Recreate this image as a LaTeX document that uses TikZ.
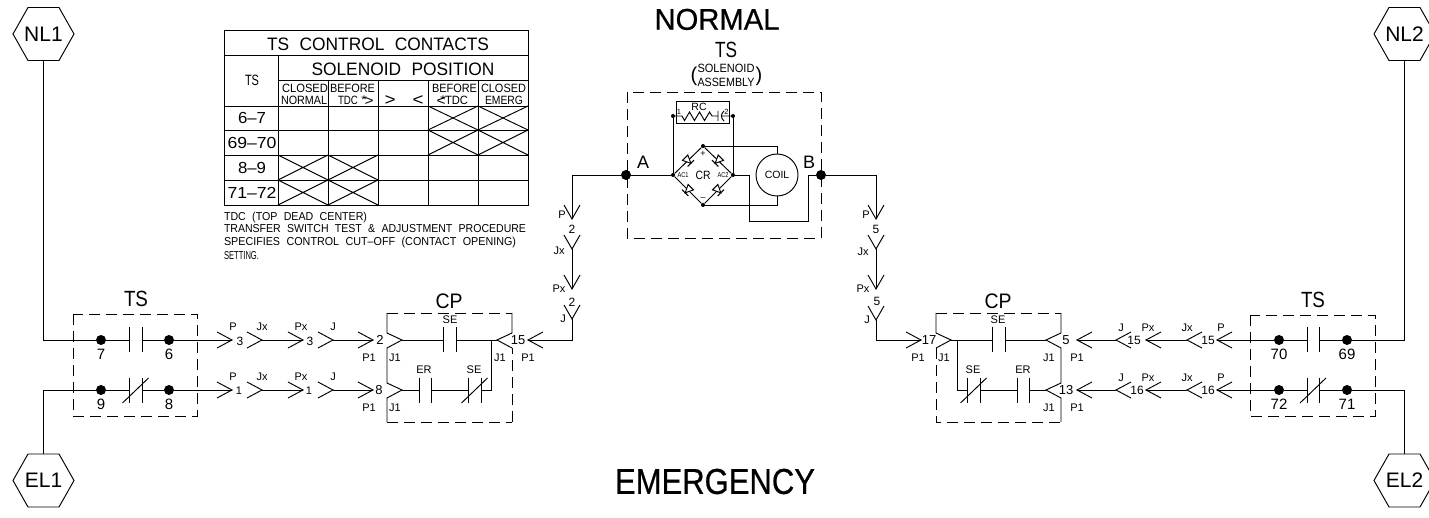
\documentclass[tikz,border=0pt]{standalone}
\usepackage{fontspec}
\setmainfont{Liberation Sans}
\newfontfamily\heavyf[FakeBold=0.6]{Liberation Sans}
\newcount\lbn
% centred label: x, y of cap centre, size, width (0 = natural), text
\newcommand{\lb}[4]{\global\advance\lbn 1
  \node[lbltxt,anchor=base,font=\fontsize{#3}{#3}\selectfont] (lbl\the\lbn) at (#1,{#2+0.358*#3}) {#4};}
\newcommand{\lw}[5]{\global\advance\lbn 1
  \node[lbltxt,anchor=base] (lbl\the\lbn) at (#1,{#2+0.358*#3}) {\resizebox{#4pt}{\height}{\fontsize{#3}{#3}\selectfont\spaceskip=.6em #5}};}
\newcommand{\lwl}[5]{\global\advance\lbn 1
  \node[lbltxt,anchor=base west] (lbl\the\lbn) at (#1,{#2+0.358*#3}) {\resizebox{#4pt}{\height}{\fontsize{#3}{#3}\selectfont\spaceskip=.6em #5}};}
\newcommand{\chr}[3]{\coordinate (#1) at (#2,#3); \draw[wire] (#2-15,#3-8) -- (#2,#3) -- (#2-15,#3+8);}
\newcommand{\chl}[3]{\coordinate (#1) at (#2,#3); \draw[wire] (#2+15,#3-8) -- (#2,#3) -- (#2+15,#3+8);}
\newcommand{\chd}[3]{\coordinate (#1) at (#2,#3); \draw[wire] (#2-8,#3-14) -- (#2,#3) -- (#2+8,#3-14);}
\newcommand{\cno}[4]{\coordinate (#1-l) at (#2,#4); \coordinate (#1-r) at (#3,#4);
  \draw[wire] (#2,#4-12.5) -- (#2,#4+12.5) (#3,#4-12.5) -- (#3,#4+12.5);}
\newcommand{\cnc}[4]{\cno{#1}{#2}{#3}{#4}
  \draw[wire] ({(#2+#3)/2-13},#4+13) -- ({(#2+#3)/2+13},#4-12);}
\newcommand{\hexa}[4]{\global\advance\lbn 1
  \node[lbltxt,font=\fontsize{21}{21}\selectfont] (#1) at (#2,#3) {#4};
  \coordinate (#1-top) at (#2,#3-26.5); \coordinate (#1-bot) at (#2,#3+26.5);
  \draw[wire] (#2-30.5,#3) -- (#2-15.5,#3-26.5) -- (#2+15.5,#3-26.5) -- (#2+30.5,#3) -- (#2+15.5,#3+26.5) -- (#2-15.5,#3+26.5) -- cycle;}
\newcommand{\diode}[3]{\begin{scope}[shift={(#1,#2)},rotate=#3]
  \draw[wire,fill=white] (-4,-3.8) -- (4,0) -- (-4,3.8) -- cycle; \draw[wire] (4,-4.5) -- (4,4.5);\end{scope}}
\tikzset{
  wire/.style={line width=0.95pt,line join=miter},
  dashb/.style={line width=0.95pt,dash pattern=on 11pt off 6pt},
  lbltxt/.style={inner sep=0pt,outer sep=0pt},
  bigdot/.style={circle,fill=black,inner sep=0pt,minimum size=10pt},
  smalldot/.style={circle,fill=black,inner sep=0pt,minimum size=4pt},
}
\begin{document}
\begin{tikzpicture}[x=1pt,y=-1pt]
\clip (0,0) rectangle (1429,518);
% ---------- hexagons
\hexa{nl1}{43.5}{34}{NL1}
\hexa{el1}{43.5}{480.5}{EL1}
\hexa{nl2}{1404.5}{34}{NL2}
\hexa{el2}{1404.5}{480.5}{EL2}
% ---------- titles
\lw{717}{19}{30}{125}{\heavyf NORMAL}
\lw{715}{481}{36}{200}{\heavyf EMERGENCY}
% ---------- table
\draw[wire] (224,30) rectangle (528,205);
\draw[wire] (224,55) -- (528,55) (278,80) -- (528,80) (224,106) -- (528,106)
  (224,130) -- (528,130) (224,155) -- (528,155) (224,180) -- (528,180);
\draw[wire] (278,55) -- (278,205) (328,80) -- (328,205) (378,80) -- (378,205) (428,80) -- (428,205) (478,80) -- (478,205);
\draw[wire] (428,106) -- (478,130) (428,130) -- (478,106) (478,106) -- (528,130) (478,130) -- (528,106)
  (428,130) -- (478,155) (428,155) -- (478,130) (478,130) -- (528,155) (478,155) -- (528,130)
  (278,155) -- (328,180) (278,180) -- (328,155) (328,155) -- (378,180) (328,180) -- (378,155)
  (278,180) -- (328,205) (278,205) -- (328,180) (328,180) -- (378,205) (328,205) -- (378,180);
\lw{378}{44}{18}{222}{TS CONTROL CONTACTS}
\lw{403}{69}{18}{183}{SOLENOID POSITION}
\lw{252}{80}{15}{14}{TS}
\lw{305}{88}{12}{46}{CLOSED}
\lw{304}{100}{12}{46}{NORMAL}
\lw{352.5}{88}{12}{45}{BEFORE}
\lw{348}{100}{12}{20}{TDC}
\lw{364}{100}{11}{6}{*}
\lw{369}{100}{14}{9}{>}
\lw{390}{99}{17}{11}{>}
\lw{418}{99}{17}{11}{<}
\lw{454.5}{88}{12}{45}{BEFORE}
\lw{456.5}{100}{12}{23}{TDC}
\lw{441}{100}{14}{9}{<}
\lw{443}{100}{11}{6}{*}
\lw{503.5}{88}{12}{45}{CLOSED}
\lw{504}{100}{12}{38}{EMERG}
\lw{252}{118}{16}{28}{6–7}
\lw{252}{143}{16}{49}{69–70}
\lw{252}{168}{16}{28}{8–9}
\lw{252}{193}{16}{49}{71–72}
\lwl{224}{216}{11.5}{143}{TDC (TOP DEAD CENTER)}
\lwl{224}{228}{11.5}{302}{TRANSFER SWITCH TEST \& ADJUSTMENT PROCEDURE}
\lwl{224}{241}{11.5}{292}{SPECIFIES CONTROL CUT–OFF (CONTACT OPENING)}
\lwl{224}{255}{11.5}{35}{SETTING.}
% ---------- left TS
\draw[dashb] (73,314) rectangle (197,416);
\lw{136}{299}{22}{24}{TS}
\node[bigdot] (d7) at (101,340) {};
\node[bigdot] (d6) at (169,340) {};
\node[bigdot] (d9) at (101,390) {};
\node[bigdot] (d8) at (169,390) {};
\cno{ka}{129}{142}{340}
\cnc{kb}{129}{142}{390}
\draw[wire] (nl1-bot) |- (d7) -- (ka-l) (ka-r) -- (d6);
\draw[wire] (el1-top) |- (d9) -- (kb-l) (kb-r) -- (d8);
\lb{101}{354}{15}{7}
\lb{169}{354}{15}{6}
\lb{101}{404}{15}{9}
\lb{169}{404}{15}{8}
% left chevrons
\chr{p3}{232}{340}\chr{jx3}{262}{340}\chr{px3}{303}{340}\chr{j3}{333}{340}\chr{e2}{373}{340}
\chr{p1}{232}{390}\chr{jx1}{262}{390}\chr{px1}{303}{390}\chr{j1}{333}{390}\chr{e8}{373}{390}
\draw[wire] (d6) -- (p3) (jx3) -- (px3) (j3) -- (e2) (d8) -- (p1) (jx1) -- (px1) (j1) -- (e8);
\lb{233}{327}{11}{P}\lb{262}{327}{11}{Jx}\lb{301}{327}{11}{Px}\lb{333}{327}{11}{J}
\lb{233}{377}{11}{P}\lb{262}{377}{11}{Jx}\lb{301}{377}{11}{Px}\lb{333}{377}{11}{J}
\lb{240}{341}{12}{3}\lb{310}{341}{12}{3}\lb{239}{391}{11}{1}\lb{309}{391}{11}{1}
% ---------- left CP
\lw{449}{300.5}{21}{27}{CP}
\coordinate (cl1) at (402,340); \coordinate (cl2) at (402,390); \coordinate (cr1) at (497,340);
\draw[wire] (387,313) -- (387,333) -- (cl1) -- (387,348) -- (387,383) -- (cl2) -- (387,398) -- (387,422);
\draw[wire] (512,313) -- (512,333) -- (cr1) -- (512,348);
\draw[dashb] (387,313) -- (512,313);
\draw[dashb] (387,422) -- (512,422) (512,422) -- (512,348);
\cno{k1}{443}{456}{340}
\cno{k2}{419}{431}{390}
\cnc{k3}{468}{481}{390}
\coordinate (jn1) at (491,340);
\draw[wire] (cl1) -- (k1-l) (k1-r) -- (cr1) (cl2) -- (k2-l) (k2-r) -- (k3-l) (k3-r) -| (jn1);
\lb{450}{320}{11}{SE}\lb{424}{370}{11}{ER}\lb{474}{370}{11}{SE}
\lb{380}{340}{13}{2}\lb{379}{390}{13}{8}\lb{518}{340}{13}{15}
\lb{369}{358}{11}{P1}\lb{369}{408}{11}{P1}\lb{528}{358}{11}{P1}
\lb{395}{358}{11}{J1}\lb{395}{408}{11}{J1}\lb{500}{358}{11}{J1}
% left riser
\chl{e15}{528}{340}
\chd{vp2}{572}{219}\chd{vjx2}{572}{249}\chd{vpx2}{572}{289}\chd{vj2}{572}{319}
\coordinate (cornerA) at (572,175); \coordinate (cornerA2) at (572,340);
\draw[wire] (e15) -- (cornerA2) -- (vj2) (vpx2) -- (vjx2) (vp2) -- (cornerA);
\lb{562}{215}{11}{P}\lb{572}{229}{12}{2}\lb{559}{251}{11}{Jx}\lb{559}{289}{11}{Px}\lb{572}{302}{12}{2}\lb{563}{319}{11}{J}
% ---------- solenoid
\lw{726}{50}{22}{22}{TS}
\lw{726}{68}{12}{57}{SOLENOID}
\lw{726}{82}{12}{57}{ASSEMBLY}
\lb{694}{74}{20}{(}\lb{759}{74}{20}{)}
\draw[dashb] (627,92) rectangle (821,238);
\node[bigdot] (dA) at (626,175) {};
\node[bigdot] (dB) at (821,175) {};
\lb{643}{162}{18}{A}\lb{809}{162}{18}{B}
\node[smalldot] (ac1) at (673,175) {};
\node[smalldot] (ac2) at (733,175) {};
\node[smalldot] (plus) at (703,146) {};
\node[smalldot] (minus) at (703,205) {};
\draw[wire] (ac1) -- (plus) -- (ac2) -- (minus) -- (ac1);
\diode{688}{160.5}{-45}
\diode{718}{160.5}{-135}
\diode{688}{190}{-135}
\diode{718}{190}{-45}
\lw{703}{175}{12}{15}{CR}
\lw{683}{175}{7}{11}{AC1}\lw{723}{175}{7}{11}{AC2}
\lb{703}{153}{9}{+}\lb{703}{197}{9}{–}
\node[circle,draw,line width=0.95pt,minimum size=42pt,inner sep=0pt,font=\fontsize{10.5}{10.5}\selectfont] (coil) at (777,175) {COIL};
\draw[wire] (plus) -| (coil.north);
\draw[wire] (minus) -| (coil.south);
\coordinate (bw1) at (749,221); \coordinate (bw2) at (808,221);
\draw[wire] (ac2) -| (bw1) -- (bw2) |- (dB);
\draw[wire] (cornerA) -- (dA) -- (ac1);
% RC
\draw[wire] (676,101) rectangle (729,123);
\node[smalldot] (rc1) at (673,116) {};
\node[smalldot] (rc2) at (733,116) {};
\draw[wire] (ac1) -- (rc1) (ac2) -- (rc2);
\draw[wire] (rc1) -- (682,116) -- (684.5,120.5) -- (689.5,112) -- (694.5,120.5) -- (699.5,112) -- (704.5,120.5) -- (709.5,112) -- (712,116) -- (718,116) (718,111) -- (718,121);
\draw[wire] (724,111) .. controls (720.5,114) and (720.5,118) .. (724,121) (721.5,116) -- (rc2);
\lb{699}{106.5}{10.5}{RC}
\lb{679}{112}{7.5}{1}\lb{726.5}{112}{7.5}{2}
% ---------- right riser
\coordinate (cornerB) at (876,175); \coordinate (cornerB2) at (876,340);
\chd{wp5}{876}{219}\chd{wjx5}{876}{249}\chd{wpx5}{876}{289}\chd{wj5}{876}{320}
\chr{e17}{921}{340}
\draw[wire] (dB) -- (cornerB) -- (wp5) (wjx5) -- (wpx5) (wj5) -- (cornerB2) -- (e17);
\lb{866}{215}{11}{P}\lb{876}{229}{12}{5}\lb{863}{252}{11}{Jx}\lb{863}{289}{11}{Px}\lb{877}{301}{12}{5}\lb{867}{320}{11}{J}
% ---------- right CP
\lw{998}{300.5}{21}{27}{CP}
\coordinate (dl1) at (951,340); \coordinate (dr1) at (1046,340); \coordinate (dr2) at (1046,390);
\draw[wire] (936,313) -- (936,333) -- (dl1) -- (936,348);
\draw[wire] (1061,313) -- (1061,333) -- (dr1) -- (1061,348) -- (1061,383) -- (dr2) -- (1061,398) -- (1061,422);
\draw[dashb] (936,313) -- (1061,313);
\draw[dashb] (936,348) -- (936,422) -- (1061,422);
\cno{m1}{992}{1005}{340}
\cnc{m2}{967}{980}{390}
\cno{m3}{1017}{1029}{390}
\coordinate (jn2) at (957,340);
\draw[wire] (dl1) -- (m1-l) (m1-r) -- (dr1) (jn2) |- (m2-l) (m2-r) -- (m3-l) (m3-r) -- (dr2);
\lb{998}{320}{11}{SE}\lb{973}{370}{11}{SE}\lb{1023}{370}{11}{ER}
\lb{929}{340}{13}{17}\lb{1066}{340}{13}{5}\lb{1066}{390}{13}{13}
\lb{918}{358}{11}{P1}\lb{1077}{358}{11}{P1}\lb{1077}{408}{11}{P1}
\lb{944}{358}{11}{J1}\lb{1049}{358}{11}{J1}\lb{1049}{408}{11}{J1}
% right chevrons
\chl{f5}{1077}{340}\chl{jj5}{1116}{340}\chl{pp5}{1146}{340}\chl{jx5}{1187}{340}\chl{pr5}{1217}{340}
\chl{f13}{1077}{390}\chl{jj6}{1116}{390}\chl{pp6}{1146}{390}\chl{jx6}{1187}{390}\chl{pr6}{1217}{390}
% ---------- right TS
\draw[dashb] (1250,315) rectangle (1375,416);
\lw{1313}{300}{22}{24}{TS}
\node[bigdot] (d70) at (1279,340) {};
\node[bigdot] (d69) at (1347,340) {};
\node[bigdot] (d72) at (1279,390) {};
\node[bigdot] (d71) at (1347,390) {};
\cno{q1}{1307}{1319}{340}
\cnc{q2}{1307}{1319}{390}
\draw[wire] (nl2-bot) |- (d69) -- (q1-r) (q1-l) -- (d70) -- (pr5);
\draw[wire] (el2-top) |- (d71) -- (q2-r) (q2-l) -- (d72) -- (pr6);
\draw[wire] (jx5) -- (pp5) (jj5) -- (f5) (jx6) -- (pp6) (jj6) -- (f13);
\lb{1279}{354}{15}{70}\lb{1347}{354}{15}{69}\lb{1279}{404}{15}{72}\lb{1347}{404}{15}{71}
\lb{1221}{328}{11}{P}\lb{1187}{328}{11}{Jx}\lb{1148}{328}{11}{Px}\lb{1121}{328}{11}{J}
\lb{1221}{378}{11}{P}\lb{1187}{378}{11}{Jx}\lb{1148}{378}{11}{Px}\lb{1121}{378}{11}{J}
\lb{1208}{340}{12}{15}\lb{1134}{340}{12}{15}\lb{1208}{390}{12}{16}\lb{1137}{390}{12}{16}
\end{tikzpicture}
\end{document}
